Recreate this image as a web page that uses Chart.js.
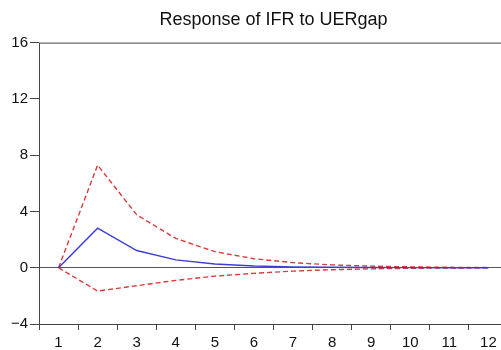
<!DOCTYPE html>
<html>
<head>
<meta charset="utf-8">
<script src="https://cdn.jsdelivr.net/npm/chart.js@4"></script>
<style>
  html, body { margin: 0; padding: 0; background: #fff; overflow: hidden; }
  #wrap { width: 508px; height: 350px; }
</style>
</head>
<body>
<div id="wrap"><canvas id="irfChart"></canvas></div>
<script>
// Periods and impulse response values
const periods = ['1', '2', '3', '4', '5', '6', '7', '8', '9', '10', '11', '12'];
const response = [0, 2.81, 1.22, 0.56, 0.26, 0.12, 0.06, 0.03, 0.015, 0.007, 0.003, 0.001];
const upperBand = [0, 7.29, 3.76, 2.08, 1.14, 0.64, 0.36, 0.2, 0.11, 0.06, 0.03, 0.015];
const lowerBand = [0, -1.66, -1.28, -0.9, -0.6, -0.4, -0.24, -0.14, -0.08, -0.04, -0.02, -0.01];
const yTicks = [-4, 0, 4, 8, 12, 16];

const fontFamily = 'Liberation Sans, Arial, sans-serif';

// draws the box around the plot area
const frame = {
  id: 'frame',
  afterDraw(chart) {
    const a = chart.chartArea;
    const c = chart.ctx;
    c.save();
    c.strokeStyle = '#444';
    c.lineWidth = 1;
    c.strokeRect(a.left + 0.5, a.top + 0.5, a.right - a.left, a.bottom - a.top);
    c.restore();
  }
};

const ctx = document.getElementById('irfChart').getContext('2d');
new Chart(ctx, {
  type: 'line',
  data: {
    labels: periods,
    datasets: [
      {
        label: 'Response',
        data: response,
        borderColor: '#3d3dd8',
        borderWidth: 1.4,
        pointRadius: 0,
        tension: 0
      },
      {
        label: 'Upper',
        data: upperBand,
        borderColor: '#d83c3c',
        borderWidth: 1.4,
        borderDash: [5, 3],
        pointRadius: 0,
        tension: 0
      },
      {
        label: 'Lower',
        data: lowerBand,
        borderColor: '#d83c3c',
        borderWidth: 1.4,
        borderDash: [5, 3],
        pointRadius: 0,
        tension: 0
      }
    ]
  },
  options: {
    responsive: true,
    maintainAspectRatio: false,
    animation: false,
    layout: { padding: 0 },
    plugins: {
      legend: { display: false },
      tooltip: { enabled: false },
      title: {
        display: true,
        text: 'Response of IFR to UERgap',
        fullSize: false,
        color: '#111',
        font: { family: fontFamily, size: 18, weight: 'normal' },
        padding: { top: 9, bottom: 12 }
      }
    },
    scales: {
      x: {
        type: 'category',
        offset: true,
        border: { display: false },
        grid: {
          offset: true,
          drawOnChartArea: false,
          tickLength: 6,
          tickColor: '#444'
        },
        ticks: {
          color: '#111',
          padding: 4,
          maxRotation: 0,
          autoSkip: false,
          font: { family: fontFamily, size: 15 }
        },
        afterFit(scale) { scale.height = 26; }
      },
      y: {
        min: -4,
        max: 16,
        border: { display: false },
        afterBuildTicks(scale) {
          scale.ticks = yTicks.map(v => ({ value: v }));
        },
        grid: {
          color: (c) => (c.tick && c.tick.value === 0 ? '#555' : 'rgba(0,0,0,0)'),
          tickColor: '#444',
          tickLength: 9
        },
        ticks: {
          color: '#111',
          padding: 2,
          font: { family: fontFamily, size: 15 },
          callback: (v) => (v < 0 ? '\u2212' + Math.abs(v) : String(v))
        },
        afterFit(scale) { scale.width = 39; }
      }
    }
  },
  plugins: [frame]
});
</script>
</body>
</html>
